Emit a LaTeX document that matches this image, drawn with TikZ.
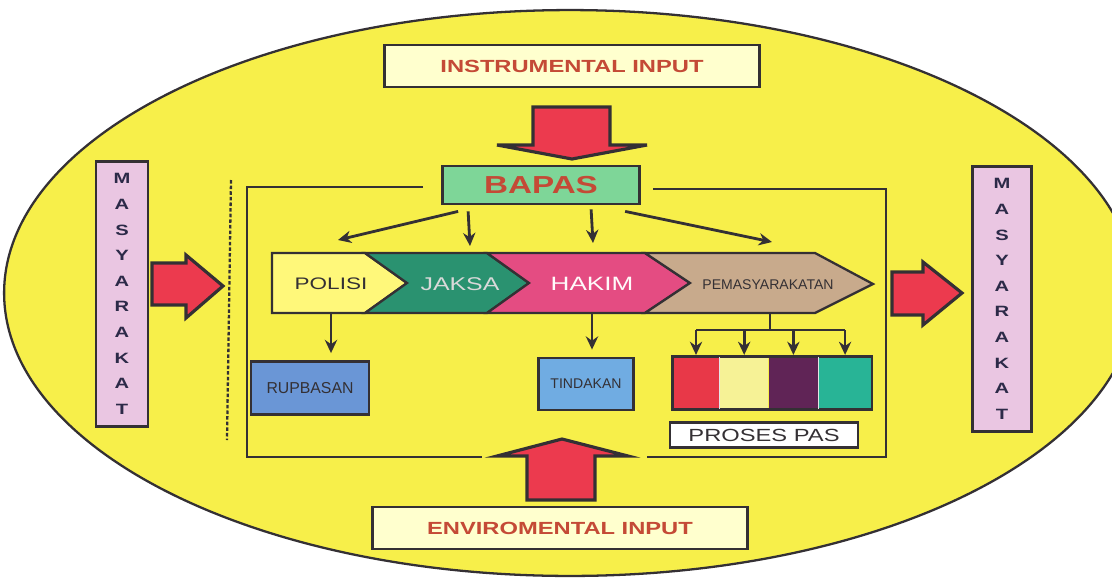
\documentclass[tikz,border=0pt]{standalone}
\usepackage{fontspec}
\setmainfont{Liberation Sans}
\newfontfamily\widefont[FakeStretch=1.35]{Liberation Sans}
\usetikzlibrary{arrows.meta,positioning,calc}
\definecolor{ovalyellow}{RGB}{247,239,74}
\definecolor{linegray}{RGB}{52,48,52}
\definecolor{inputcream}{RGB}{255,255,206}
\definecolor{inputred}{RGB}{196,74,54}
\definecolor{arrowred}{RGB}{236,58,78}
\definecolor{bapasgreen}{RGB}{126,214,152}
\definecolor{masypink}{RGB}{234,198,226}
\definecolor{masytext}{RGB}{44,42,72}
\definecolor{polisiyellow}{RGB}{255,248,122}
\definecolor{jaksateal}{RGB}{42,146,112}
\definecolor{hakimpink}{RGB}{228,76,130}
\definecolor{pemtan}{RGB}{200,170,140}
\definecolor{rupblue}{RGB}{106,150,214}
\definecolor{tindblue}{RGB}{112,172,226}
\definecolor{pasred}{RGB}{232,56,72}
\definecolor{pasyellow}{RGB}{246,242,150}
\definecolor{paspurple}{RGB}{96,36,86}
\definecolor{pasteal}{RGB}{40,180,150}
\tikzstyle{arrow} = [line width=1.6pt,->,>={Stealth[length=7.5pt,width=7pt]},color=linegray]
\tikzstyle{outerline} = [line width=1.6pt,color=linegray]
\tikzstyle{box} = [rectangle,draw=linegray,line width=1.6pt,inner sep=0pt]
\tikzstyle{inputbox} = [box,fill=inputcream,minimum width=7.5cm,minimum height=0.84cm,text=inputred,font=\widefont\bfseries\fontsize{10}{12}\selectfont]
\tikzstyle{masybox} = [box,fill=masypink,minimum height=5.3cm,align=center,text=masytext,font=\widefont\bfseries\fontsize{8.5}{14.6}\selectfont]
\tikzstyle{chev} = [draw=linegray,line width=1.3pt,line join=miter]
\tikzstyle{bigarrow} = [draw=linegray,fill=arrowred,line width=1.8pt,line join=miter]
\tikzstyle{pasblock} = [rectangle,inner sep=0pt,minimum height=1.04cm]

\begin{document}
\begin{tikzpicture}[x=0.02cm, y=-0.02cm]
    \useasboundingbox (0,0) rectangle (1112,582);
    \clip (0,0) rectangle (1112,582);
    \fill[white] (0,0) rectangle (1112,582);

    % Oval background
    \draw[fill=ovalyellow, draw=linegray, line width=1.3pt] (570,293) ellipse [x radius=11.32cm, y radius=5.66cm];

    % Inputs
    \node[inputbox] (instr) at (572,66) {INSTRUMENTAL INPUT};
    \node[inputbox] (envi) at (560,528) {ENVIROMENTAL INPUT};
    \draw[bigarrow] (533,107) -- (610,107) -- (610,145) -- (647,145) -- (572,159) -- (497,145) -- (533,145) -- cycle;
    \draw[bigarrow] (527,500) -- (595,500) -- (595,456) -- (628,456) -- (562,439) -- (497,456) -- (527,456) -- cycle;

    % Masyarakat
    \node[masybox, minimum width=1.04cm] (masyL) at (122,294) {M\\A\\S\\Y\\A\\R\\A\\K\\A\\T};
    \node[masybox, minimum width=1.18cm] (masyR) at (1002,299) {M\\A\\S\\Y\\A\\R\\A\\K\\A\\T};
    \draw[bigarrow] (152,263) -- (186,263) -- (186,255) -- (223,286) -- (186,318) -- (186,305) -- (152,305) -- cycle;
    \draw[bigarrow] (892,272) -- (923,272) -- (923,262) -- (962,293) -- (923,325) -- (923,315) -- (892,315) -- cycle;

    % System frame
    \draw[outerline] (423,187) -- (247,187) -- (247,457) -- (482,457);
    \draw[outerline] (653,189) -- (886,189) -- (886,457) -- (647,457);
    \draw[line width=1.3pt, color=linegray, dash pattern=on 2pt off 1.2pt] (231,180) -- (227,440);

    % BAPAS
    \node[box, fill=bapasgreen, minimum width=3.94cm, minimum height=0.76cm, text=inputred, font=\widefont\bfseries\fontsize{14}{16}\selectfont] (bapas) at (541,185) {BAPAS};

    % Chevron band
    \draw[chev, fill=polisiyellow] (272,253) -- (365,253) -- (407,283) -- (365,313) -- (272,313) -- cycle;
    \draw[chev, fill=jaksateal] (365,253) -- (487,253) -- (529,283) -- (487,313) -- (365,313) -- (407,283) -- cycle;
    \draw[chev, fill=hakimpink] (487,253) -- (645,253) -- (690,283) -- (645,313) -- (487,313) -- (529,283) -- cycle;
    \draw[chev, fill=pemtan] (645,253) -- (815,253) -- (873,284) -- (815,313) -- (645,313) -- (690,283) -- cycle;
    \node[text=linegray, font=\widefont\fontsize{9.5}{11}\selectfont] (polisi) at (331,284) {POLISI};
    \node[text=black!15, font=\widefont\fontsize{10.5}{12}\selectfont] (jaksa) at (460,284) {JAKSA};
    \node[text=white!92!pink, font=\widefont\fontsize{11}{13}\selectfont] (hakim) at (592,284) {HAKIM};
    \node[text=linegray, font=\fontsize{8}{10}\selectfont] (pem) at (768,285) {PEMASYARAKATAN};

    \coordinate (t1) at (338,240);
    \coordinate (t2) at (470,246);
    \coordinate (t3) at (593,243);
    \coordinate (t4) at (772,242);
    \draw[arrow] ($(bapas.south west)+(17,6)$) -- (t1);
    \draw[arrow] ($(bapas.south west)+(27,6)$) -- (t2);
    \draw[arrow] ($(bapas.south west)+(150,4)$) -- (t3);
    \draw[arrow] ($(bapas.south west)+(184,6)$) -- (t4);

    % Outputs of the band
    \node[box, fill=rupblue, minimum width=2.36cm, minimum height=1.06cm, text=linegray, font=\fontsize{9}{11}\selectfont] (rupbasan) at (310,388) {RUPBASAN};
    \node[box, fill=tindblue, minimum width=1.9cm, minimum height=1.04cm, text=linegray, font=\fontsize{8}{10}\selectfont] (tindakan) at (586,384) {TINDAKAN};
    \node[pasblock, fill=pasred, minimum width=0.94cm] (c1) at (696,383) {};
    \node[pasblock, fill=pasyellow, minimum width=0.96cm, right=0pt of c1] (c2) {};
    \node[pasblock, fill=paspurple, minimum width=0.98cm, right=0pt of c2] (c3) {};
    \node[pasblock, fill=pasteal, minimum width=1.06cm, right=0pt of c3] (c4) {};
    \draw[outerline] (c1.north west) rectangle (c4.south east);
    \draw[white!80!gray, line width=0.6pt] (c1.north east) -- (c1.south east) (c3.north east) -- (c3.south east);
    \node[box, fill=white, minimum width=3.76cm, minimum height=0.5cm, text=linegray, font=\widefont\fontsize{10}{12}\selectfont] (proses) at (764,435) {PROSES PAS};

    \coordinate (bandfoot) at (770,313);
    \coordinate (split) at (770,330);
    \draw[arrow, shorten >=4pt] (polisi |- bandfoot) -- (polisi |- rupbasan.north);
    \draw[arrow, shorten >=4pt] (hakim |- bandfoot) -- (hakim |- tindakan.north);
    \draw[outerline] (bandfoot) -- (split);
    \draw[outerline] (c1.north |- split) -- (c4.north |- split);
    \foreach \c in {c1,c2,c3,c4}
        \draw[arrow, shorten >=1pt] (\c.north |- split) -- (\c.north);
\end{tikzpicture}
\end{document}
